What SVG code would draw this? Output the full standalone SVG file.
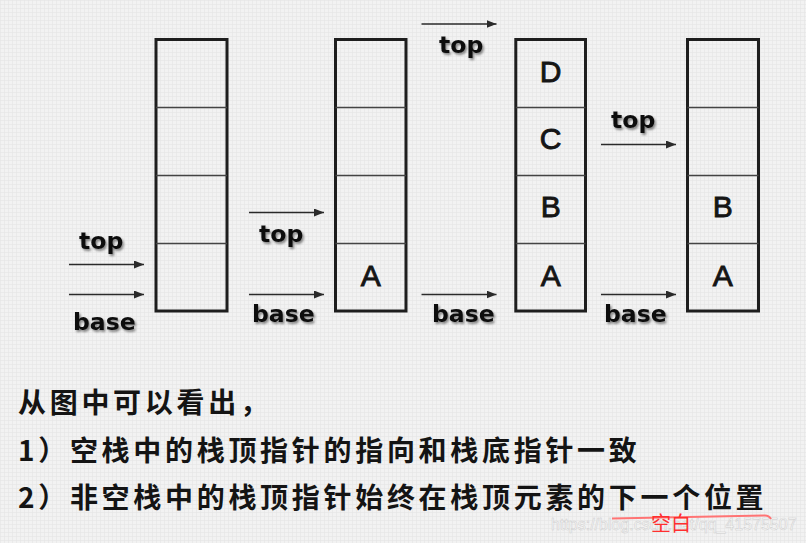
<svg xmlns="http://www.w3.org/2000/svg" width="806" height="543" viewBox="0 0 806 543">
  <defs>
    <pattern id="grid" width="4" height="4" patternUnits="userSpaceOnUse">
      <rect width="4" height="4" fill="#f2f2f2"/>
      <path d="M0 0.5H4M0.5 0V4" stroke="#e4e4e4" stroke-width="0.6" fill="none"/>
    </pattern>
    <marker id="ah" viewBox="0 0 10 8" refX="10" refY="4" markerWidth="10" markerHeight="8" markerUnits="userSpaceOnUse" orient="auto">
      <path d="M0 0L10 4L0 8Z" fill="#2a2a2a"/>
    </marker>
    <filter id="sh" x="-20%" y="-20%" width="150%" height="160%">
      <feDropShadow dx="1.5" dy="2" stdDeviation="1.2" flood-color="#000" flood-opacity="0.45"/>
    </filter>
  </defs>
  <style>
    .frame { fill: none; stroke: #1e1e1e; stroke-width: 3; }
    .div { stroke: #444; stroke-width: 1.4; }
    .cell { font-family: "Liberation Sans", Arial, sans-serif; font-size: 30px; fill: #151515; stroke: #151515; stroke-width: 0.9; text-anchor: middle; }
    .ptr { stroke: #2a2a2a; stroke-width: 1.6; fill: none; marker-end: url(#ah); }
    .lbl { font-family: "DejaVu Sans", sans-serif; font-weight: bold; font-size: 23.5px; fill: #111; filter: url(#sh); }
    .cn { font-family: "Noto Sans CJK SC", "Noto Sans", sans-serif; font-weight: bold; font-size: 28px; fill: #141414; letter-spacing: 3.7px; }
    .wm { font-family: "Liberation Sans", Arial, sans-serif; font-size: 16px; fill: #fbfbfb; stroke: #cdcdcd; stroke-width: 0.5; }
    .red { font-family: "Noto Sans CJK SC", sans-serif; font-size: 20px; fill: #ff2f2f; }
  </style>
  <rect width="806" height="543" fill="url(#grid)"/>

  <g id="stack1">
    <rect class="frame" x="156" y="39.5" width="71" height="271.5"/>
    <line class="div" x1="156" y1="107.5" x2="227" y2="107.5"/>
    <line class="div" x1="156" y1="175.5" x2="227" y2="175.5"/>
    <line class="div" x1="156" y1="243.5" x2="227" y2="243.5"/>
  </g>
  <g id="stack2">
    <rect class="frame" x="335.5" y="39.5" width="70.5" height="271.5"/>
    <line class="div" x1="335.5" y1="107.5" x2="406" y2="107.5"/>
    <line class="div" x1="335.5" y1="175.5" x2="406" y2="175.5"/>
    <line class="div" x1="335.5" y1="243.5" x2="406" y2="243.5"/>
    <text class="cell" x="370.8" y="285.5">A</text>
  </g>
  <g id="stack3">
    <rect class="frame" x="515.8" y="39.5" width="69.7" height="271.5"/>
    <line class="div" x1="515.8" y1="107.5" x2="585.5" y2="107.5"/>
    <line class="div" x1="515.8" y1="175.5" x2="585.5" y2="175.5"/>
    <line class="div" x1="515.8" y1="243.5" x2="585.5" y2="243.5"/>
    <text class="cell" x="550.7" y="81.5">D</text>
    <text class="cell" x="550.7" y="148.5">C</text>
    <text class="cell" x="550.7" y="217">B</text>
    <text class="cell" x="550.7" y="285.5">A</text>
  </g>
  <g id="stack4">
    <rect class="frame" x="687.5" y="39.5" width="71" height="271.5"/>
    <line class="div" x1="687.5" y1="107.5" x2="758.5" y2="107.5"/>
    <line class="div" x1="687.5" y1="175.5" x2="758.5" y2="175.5"/>
    <line class="div" x1="687.5" y1="243.5" x2="758.5" y2="243.5"/>
    <text class="cell" x="722.8" y="217">B</text>
    <text class="cell" x="722.8" y="285.5">A</text>
  </g>

  <g id="connectors">
    <line class="ptr" x1="69" y1="264.5" x2="144" y2="264.5"/>
    <line class="ptr" x1="69" y1="294.5" x2="144" y2="294.5"/>
    <line class="ptr" x1="249" y1="212.5" x2="324" y2="212.5"/>
    <line class="ptr" x1="249" y1="294.5" x2="324" y2="294.5"/>
    <line class="ptr" x1="421.5" y1="24" x2="496.5" y2="24"/>
    <line class="ptr" x1="421.5" y1="294.5" x2="496.5" y2="294.5"/>
    <line class="ptr" x1="601" y1="144.5" x2="676" y2="144.5"/>
    <line class="ptr" x1="601" y1="294.5" x2="676" y2="294.5"/>
  </g>

  <g id="pointer-labels">
    <text class="lbl" x="79" y="249">top</text>
    <text class="lbl" x="73" y="330">base</text>
    <text class="lbl" x="259" y="242">top</text>
    <text class="lbl" x="252" y="322">base</text>
    <text class="lbl" x="439" y="53">top</text>
    <text class="lbl" x="432" y="322">base</text>
    <text class="lbl" x="611" y="128">top</text>
    <text class="lbl" x="604" y="322">base</text>
  </g>

  <g id="notes">
    <text class="cn" x="18" y="413">从图中可以看出，</text>
    <text class="cn" x="18" y="461">1）空栈中的栈顶指针的指向和栈底指针一致</text>
    <text class="cn" x="18" y="508">2）非空栈中的栈顶指针始终在栈顶元素的下一个位置</text>
  </g>

  <g id="annotation">
    <text class="wm" x="551" y="530">https://blog.csdn.net/qq_41575507</text>
    <path d="M612 518.5L765 515.5Q769 515.5 771 519" fill="none" stroke="#ff7474" stroke-width="2"/>
    <text class="red" x="651" y="531">空白</text>
  </g>
</svg>
